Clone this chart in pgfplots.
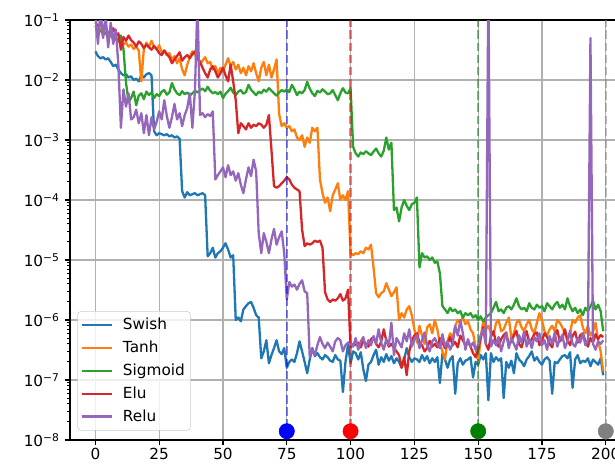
\documentclass[border=0pt]{standalone}
\usepackage{fontspec}
\setmainfont{DejaVu Sans}
\usepackage{pgfplots}
\usepackage{pgfplotstable}
\pgfplotsset{compat=1.18}
\definecolor{tabblue}{HTML}{1F77B4}
\definecolor{taborange}{HTML}{FF7F0E}
\definecolor{tabgreen}{HTML}{2CA02C}
\definecolor{tabred}{HTML}{D62728}
\definecolor{tabpurple}{HTML}{9467BD}
\definecolor{mplgreen}{HTML}{008000}
\definecolor{mplgray}{HTML}{808080}
\definecolor{gridgray}{HTML}{B0B0B0}
\pgfplotstableread{
x S T G E R
0 3.0e-2 8.0e-2 6.8e-2 9.0e-2 1.2e-1
1 2.5e-2 6.5e-2 7.0e-2 8.0e-2 4.0e-2
2 2.3e-2 7.0e-2 6.5e-2 8.5e-2 1.5e-1
3 2.4e-2 5.5e-2 6.6e-2 7.0e-2 5.0e-2
4 2.2e-2 6.2e-2 6.0e-2 7.5e-2 1.2e-1
5 2.3e-2 5.0e-2 6.3e-2 6.0e-2 3.5e-2
6 2.0e-2 5.6e-2 5.5e-2 6.5e-2 9.0e-2
7 1.7e-2 4.6e-2 5.8e-2 7.3e-2 4.0e-2
8 1.8e-2 5.0e-2 5.0e-2 5.5e-2 7.0e-2
9 1.5e-2 4.3e-2 4.5e-2 6.0e-2 1.8e-2
10 1.3e-2 4.6e-2 5.5e-2 3.2e-2 1.6e-3
11 1.2e-2 3.9e-2 3.3e-2 5.2e-2 7.0e-3
12 1.25e-2 4.2e-2 9.0e-3 4.5e-2 3.6e-3
13 1.1e-2 3.6e-2 4.3e-3 5.5e-2 6.0e-3
14 1.15e-2 3.9e-2 5.0e-3 4.6e-2 2.2e-3
15 1.0e-2 3.3e-2 6.4e-3 4.2e-2 2.4e-3
16 1.05e-2 3.6e-2 3.8e-3 3.6e-2 3.2e-3
17 9.5e-3 3.1e-2 5.5e-3 4.4e-2 1.9e-3
18 1.2e-2 9.5e-3 6.0e-3 4.0e-2 2.8e-3
19 1.1e-2 3.3e-2 4.8e-3 3.4e-2 1.3e-3
20 1.25e-2 4.2e-2 6.4e-3 3.9e-2 2.6e-3
21 1.3e-2 3.5e-2 5.6e-3 3.5e-2 1.2e-3
22 1.2e-2 4.5e-2 6.2e-3 3.2e-2 2.4e-3
23 1.4e-3 3.6e-2 5.0e-3 3.7e-2 1.5e-3
24 1.2e-3 3.2e-2 5.8e-3 3.3e-2 2.0e-3
25 1.3e-3 3.8e-2 5.4e-3 2.8e-2 3.0e-3
26 1.25e-3 2.9e-2 6.4e-3 2.6e-2 2.2e-3
27 1.2e-3 3.1e-2 6.8e-3 3.1e-2 4.6e-3
28 1.25e-3 2.6e-2 5.7e-3 2.7e-2 2.5e-3
29 1.15e-3 2.8e-2 6.2e-3 2.4e-2 1.6e-3
30 1.2e-3 2.2e-2 8.9e-3 1.9e-2 2.4e-3
31 1.1e-3 2.5e-2 7.0e-3 2.2e-2 4.0e-3
32 1.15e-3 1.9e-2 6.0e-3 2.5e-2 2.2e-3
33 1.05e-3 2.3e-2 5.6e-3 2.9e-2 2.8e-3
34 1.4e-4 1.5e-2 6.5e-3 2.1e-2 1.7e-3
35 1.1e-4 1.2e-2 5.8e-3 2.4e-2 2.6e-3
36 1.35e-4 1.8e-2 6.2e-3 2.6e-2 3.4e-3
37 1.2e-4 2.4e-2 5.5e-3 2.3e-2 6.0e-3
38 1.25e-4 3.0e-2 6.0e-3 2.7e-2 1.6e-3
39 1.3e-4 2.6e-2 6.6e-3 3.0e-2 6.5e-3
40 1.2e-4 2.3e-2 6.2e-3 2.4e-2 2.0e-1
41 1.25e-4 1.8e-2 6.8e-3 2.0e-2 2.6e-3
42 1.3e-4 2.1e-2 7.2e-3 1.6e-2 2.8e-3
43 1.2e-4 2.4e-2 6.5e-3 1.3e-2 2.4e-3
44 1.15e-5 1.9e-2 7.7e-3 1.1e-2 2.7e-3
45 1.3e-5 2.0e-2 6.6e-3 1.5e-2 2.5e-3
46 1.6e-5 1.5e-2 6.0e-3 1.7e-2 3.0e-3
47 1.1e-5 1.7e-2 6.3e-3 1.4e-2 2.2e-4
48 1.3e-5 1.3e-2 5.8e-3 1.1e-2 2.6e-4
49 1.4e-5 1.6e-2 6.4e-3 1.3e-2 3.0e-4
50 1.6e-5 1.4e-2 5.0e-3 1.6e-2 3.5e-4
51 1.9e-5 1.8e-2 5.9e-3 1.2e-2 2.4e-4
52 1.5e-5 2.3e-2 6.5e-3 9.5e-3 3.8e-4
53 1.1e-5 1.7e-2 7.4e-3 1.8e-2 2.6e-4
54 1.2e-5 2.0e-2 6.2e-3 9.5e-3 3.0e-4
55 1.0e-6 1.5e-2 5.6e-3 4.6e-3 2.1e-4
56 1.1e-6 1.8e-2 6.4e-3 1.3e-3 2.8e-4
57 9.5e-7 1.3e-2 6.8e-3 1.9e-3 1.8e-4
58 1.5e-6 1.6e-2 5.9e-3 1.7e-3 1.3e-4
59 1.7e-6 1.2e-2 6.3e-3 1.5e-3 2.2e-4
60 1.9e-6 1.7e-2 8.3e-3 1.9e-3 3.5e-4
61 2.0e-6 1.4e-2 6.9e-3 1.6e-3 2.5e-4
62 1.6e-6 1.9e-2 6.2e-3 1.8e-3 4.7e-4
63 1.2e-6 1.3e-2 5.6e-3 1.7e-3 3.0e-4
64 1.1e-6 9.5e-3 6.4e-3 1.9e-3 2.8e-5
65 2.3e-7 1.6e-2 6.0e-3 1.8e-3 1.3e-5
66 3.0e-7 2.0e-2 6.9e-3 1.6e-3 2.8e-5
67 4.6e-7 1.2e-2 6.4e-3 1.8e-3 2.0e-5
68 1.9e-7 1.8e-2 7.3e-3 2.6e-3 1.3e-5
69 2.6e-7 1.1e-2 6.6e-3 6.8e-4 2.2e-5
70 3.4e-7 1.5e-2 6.0e-3 1.7e-4 3.3e-5
71 4.6e-7 2.2e-2 5.5e-3 1.6e-4 1.8e-5
72 3.0e-7 2.7e-3 6.2e-3 1.7e-4 2.4e-5
73 2.7e-7 1.7e-3 6.8e-3 1.9e-4 3.0e-5
74 3.4e-7 1.9e-3 6.4e-3 2.1e-4 1.3e-5
75 1.6e-7 1.6e-3 7.0e-3 2.4e-4 2.2e-6
76 2.0e-7 1.7e-3 6.3e-3 2.2e-4 4.3e-6
77 2.2e-7 1.4e-3 8.3e-3 1.8e-4 3.6e-6
78 2.0e-7 1.5e-3 7.0e-3 1.6e-4 3.9e-6
79 2.8e-7 1.1e-3 5.6e-3 1.5e-4 3.2e-6
80 4.4e-7 1.0e-3 6.4e-3 1.4e-4 4.0e-6
81 3.0e-7 1.2e-3 6.0e-3 3.2e-5 4.6e-6
82 2.0e-7 7.7e-4 6.8e-3 1.7e-5 3.0e-6
83 1.3e-7 1.1e-3 9.3e-3 1.9e-5 2.8e-6
84 2.2e-7 9.0e-4 7.2e-3 1.8e-5 2.4e-7
85 3.4e-7 1.6e-3 6.0e-3 1.9e-5 3.2e-7
86 2.5e-7 1.4e-3 5.4e-3 2.1e-5 2.6e-7
87 2.8e-7 1.6e-3 6.6e-3 2.0e-5 3.8e-7
88 2.4e-7 2.2e-4 6.2e-3 2.1e-5 5.2e-7
89 2.2e-7 1.3e-4 7.0e-3 1.6e-5 4.0e-7
90 2.6e-7 9.0e-5 6.4e-3 2.9e-6 3.4e-7
91 2.4e-7 1.1e-4 5.8e-3 2.2e-6 4.2e-7
92 2.1e-7 6.5e-5 6.0e-3 2.0e-6 3.6e-7
93 2.0e-7 1.2e-4 6.8e-3 2.2e-6 3.0e-7
94 2.6e-7 1.5e-4 5.6e-3 2.1e-6 4.4e-7
95 2.2e-7 1.9e-4 4.6e-3 2.3e-6 5.0e-7
96 2.1e-7 1.0e-4 6.0e-3 2.7e-6 4.6e-7
97 6.3e-8 1.2e-4 7.3e-3 2.1e-6 3.0e-7
98 2.0e-7 1.0e-4 6.2e-3 2.3e-6 3.8e-7
99 3.9e-7 1.4e-4 6.0e-3 3.2e-6 4.2e-7
100 1.9e-7 1.3e-5 7.3e-3 3.5e-7 4.2e-7
101 3.0e-7 1.2e-5 7.7e-4 4.0e-7 3.6e-7
102 2.8e-7 1.3e-5 6.0e-4 3.8e-7 5.0e-7
103 2.2e-7 1.25e-5 5.3e-4 4.2e-7 3.2e-7
104 2.9e-7 1.4e-5 6.2e-4 3.5e-7 4.4e-7
105 1.5e-7 1.3e-5 5.8e-4 4.5e-7 5.2e-7
106 9.6e-8 1.6e-5 6.5e-4 4.0e-7 3.4e-7
107 1.8e-7 1.5e-5 6.0e-4 3.6e-7 4.6e-7
108 2.0e-7 1.8e-5 5.6e-4 4.8e-7 3.8e-7
109 2.6e-7 7.5e-6 6.4e-4 5.2e-7 5.4e-7
110 3.2e-7 2.8e-6 7.2e-4 4.0e-7 4.0e-7
111 1.8e-7 2.4e-6 6.0e-4 3.5e-7 7.0e-7
112 2.4e-7 2.8e-6 5.3e-4 4.4e-7 4.2e-7
113 2.0e-7 3.0e-6 6.6e-4 7.0e-7 3.2e-7
114 2.7e-7 4.1e-6 1.1e-3 4.5e-7 4.8e-7
115 2.1e-7 3.2e-6 6.9e-4 3.6e-7 3.8e-7
116 2.5e-7 2.5e-6 9.0e-4 4.0e-7 9.0e-7
117 1.9e-7 2.9e-6 6.8e-5 3.4e-7 2.6e-7
118 2.3e-7 3.5e-6 7.5e-5 3.0e-7 5.0e-7
119 2.0e-7 1.0e-6 4.4e-5 2.6e-7 4.2e-7
120 1.6e-7 1.3e-6 7.5e-5 1.6e-7 3.5e-7
121 2.2e-7 1.1e-6 1.0e-4 2.4e-7 6.0e-7
122 3.4e-7 1.5e-6 8.0e-5 1.2e-7 4.4e-7
123 2.4e-7 1.7e-6 6.8e-5 3.0e-7 7.0e-7
124 2.0e-7 1.2e-6 8.5e-5 4.6e-7 3.6e-7
125 2.3e-7 7.0e-7 9.0e-5 5.5e-7 4.8e-7
126 2.2e-7 4.2e-7 1.1e-4 6.0e-7 5.6e-7
127 2.0e-7 8.0e-7 7.5e-6 4.2e-7 3.4e-7
128 2.6e-7 5.5e-7 1.3e-5 3.8e-7 4.6e-7
129 2.1e-7 4.0e-7 1.1e-5 3.0e-7 6.2e-7
130 2.5e-7 7.5e-7 1.15e-5 3.4e-7 3.8e-7
131 1.9e-7 8.5e-7 1.0e-5 4.5e-7 3.0e-7
132 2.3e-7 6.0e-7 1.1e-5 3.6e-7 4.4e-7
133 2.0e-7 1.0e-6 9.0e-6 4.0e-7 5.0e-7
134 2.4e-7 7.0e-7 9.5e-6 3.5e-7 4.0e-7
135 8.9e-8 4.0e-7 6.0e-6 5.0e-7 3.4e-7
136 2.8e-7 3.0e-7 1.7e-6 4.2e-7 5.8e-7
137 2.2e-7 2.2e-7 1.5e-6 3.4e-7 3.6e-7
138 1.6e-7 4.5e-7 1.3e-6 4.0e-7 4.4e-7
139 2.2e-7 6.0e-7 1.6e-6 5.2e-7 3.2e-7
140 2.5e-7 5.0e-7 1.4e-6 3.8e-7 4.0e-7
141 5.9e-8 8.0e-7 1.5e-6 4.3e-7 8.0e-7
142 1.9e-7 1.0e-6 1.3e-6 3.5e-7 5.5e-7
143 2.3e-7 9.0e-7 1.4e-6 5.5e-7 1.0e-6
144 1.8e-7 1.1e-6 1.1e-6 4.6e-7 6.0e-7
145 2.1e-7 8.5e-7 1.3e-6 3.8e-7 3.2e-7
146 2.2e-7 9.5e-7 1.2e-6 4.4e-7 4.8e-7
147 2.4e-7 7.0e-7 1.3e-6 3.6e-7 3.6e-7
148 1.1e-7 6.0e-7 1.1e-6 2.8e-7 4.2e-7
149 2.0e-7 3.5e-7 1.2e-6 2.4e-7 3.2e-7
150 1.8e-7 2.0e-7 1.0e-6 3.2e-7 3.8e-7
151 2.6e-7 5.0e-7 1.15e-6 5.0e-7 5.6e-7
152 2.2e-7 1.0e-6 9.5e-7 7.6e-7 7.0e-7
153 2.8e-7 7.0e-7 1.1e-6 4.0e-7 4.0e-7
154 4.6e-8 8.0e-7 1.2e-6 3.2e-7 5.0e-1
155 2.8e-7 6.0e-7 1.3e-6 5.4e-7 3.6e-7
156 2.0e-7 5.5e-7 1.6e-6 6.5e-7 4.6e-7
157 2.4e-7 9.0e-7 2.0e-6 4.2e-7 3.8e-7
158 2.1e-7 1.0e-6 1.4e-6 3.6e-7 5.2e-7
159 2.3e-7 6.5e-7 1.5e-6 4.8e-7 3.0e-7
160 5.0e-8 7.0e-7 1.3e-6 5.6e-7 4.4e-7
161 2.0e-7 9.0e-7 1.6e-6 6.2e-7 6.0e-7
162 1.6e-7 1.1e-6 1.7e-6 3.8e-7 3.4e-7
163 2.1e-7 5.0e-7 1.5e-6 4.4e-7 5.0e-7
164 1.3e-7 6.0e-7 1.8e-6 5.5e-7 4.0e-7
165 2.8e-7 9.0e-7 2.3e-6 6.6e-7 3.2e-7
166 2.2e-7 1.0e-6 1.7e-6 4.0e-7 5.6e-7
167 2.0e-7 7.5e-7 1.5e-6 3.5e-7 4.2e-7
168 1.7e-7 6.5e-7 1.6e-6 5.0e-7 6.4e-7
169 2.2e-7 8.5e-7 1.4e-6 6.5e-7 3.6e-7
170 2.5e-7 1.0e-6 1.9e-6 4.2e-7 4.8e-7
171 3.0e-7 7.0e-7 1.6e-6 4.8e-7 3.4e-7
172 2.1e-7 6.0e-7 1.5e-6 5.8e-7 5.2e-7
173 2.4e-7 9.0e-7 1.8e-6 6.2e-7 4.4e-7
174 2.0e-7 1.3e-6 1.6e-6 3.8e-7 6.0e-7
175 1.8e-7 1.0e-6 1.7e-6 4.5e-7 3.8e-7
176 2.2e-7 6.5e-7 1.4e-6 6.0e-7 4.6e-7
177 2.4e-7 5.5e-7 1.9e-6 5.2e-7 3.2e-7
178 2.1e-7 7.0e-7 1.7e-6 4.0e-7 5.4e-7
179 5.9e-8 8.0e-7 1.5e-6 3.5e-7 4.0e-7
180 2.0e-7 6.5e-7 1.8e-6 5.5e-7 6.2e-7
181 1.9e-7 1.0e-6 2.0e-6 6.8e-7 3.6e-7
182 2.2e-7 9.0e-7 1.6e-6 4.4e-7 4.8e-7
183 2.5e-7 7.5e-7 1.8e-6 5.0e-7 5.6e-7
184 2.6e-7 6.0e-7 1.5e-6 7.0e-7 3.4e-7
185 2.3e-7 4.5e-7 2.3e-6 4.6e-7 4.4e-7
186 2.9e-7 6.0e-7 1.7e-6 3.8e-7 6.6e-7
187 7.4e-8 1.0e-6 1.4e-6 5.4e-7 4.0e-7
188 2.2e-7 9.0e-7 1.6e-6 6.4e-7 3.6e-7
189 2.6e-7 1.1e-6 1.3e-6 4.2e-7 5.0e-7
190 1.9e-7 1.2e-6 1.5e-6 5.6e-7 4.2e-7
191 2.1e-7 7.5e-7 1.2e-6 6.0e-7 6.0e-7
192 2.0e-7 6.0e-7 1.6e-6 4.5e-7 3.8e-7
193 2.3e-7 8.0e-7 1.4e-6 3.6e-7 4.6e-7
194 1.7e-7 5.5e-7 1.7e-6 5.0e-7 5.0e-2
195 2.2e-7 6.5e-7 2.1e-6 4.2e-7 4.0e-7
196 2.0e-7 9.0e-7 1.5e-6 5.8e-7 3.2e-7
197 1.8e-7 4.5e-7 1.8e-6 4.8e-7 4.4e-7
198 2.3e-7 3.0e-7 1.4e-6 5.6e-7 4.0e-7
199 1.2e-7 1.4e-7 6.5e-7 5.2e-7 4.6e-7
}\data
\begin{document}
\begin{tikzpicture}
\useasboundingbox (-50.4pt,-17.28pt) rectangle (392.4pt,316.8pt);
\clip (-50.4pt,-17.28pt) rectangle (392.4pt,316.8pt);
\begin{axis}[
  at={(0pt,0pt)}, anchor=south west,
  scale only axis, width=402.2pt, height=302.4pt,
  xmin=-9.95, xmax=208.95,
  ymode=log, ymin=1e-8, ymax=1e-1,
  xtick={0,25,50,75,100,125,150,175,200},
  xticklabels={0,25,50,75,100,125,150,175,200},
  ytick={1e-8,1e-7,1e-6,1e-5,1e-4,1e-3,1e-2,1e-1},
  yticklabels={10\textsuperscript{−8},10\textsuperscript{−7},10\textsuperscript{−6},10\textsuperscript{−5},10\textsuperscript{−4},10\textsuperscript{−3},10\textsuperscript{−2},10\textsuperscript{−1}},
  minor ytick={2e-8,3e-8,4e-8,5e-8,6e-8,7e-8,8e-8,9e-8,
    2e-7,3e-7,4e-7,5e-7,6e-7,7e-7,8e-7,9e-7,
    2e-6,3e-6,4e-6,5e-6,6e-6,7e-6,8e-6,9e-6,
    2e-5,3e-5,4e-5,5e-5,6e-5,7e-5,8e-5,9e-5,
    2e-4,3e-4,4e-4,5e-4,6e-4,7e-4,8e-4,9e-4,
    2e-3,3e-3,4e-3,5e-3,6e-3,7e-3,8e-3,9e-3,
    2e-2,3e-2,4e-2,5e-2,6e-2,7e-2,8e-2,9e-2},
  tick pos=left, tick align=outside,
  major tick length=3.9pt, minor tick length=2.2pt,
  every tick/.style={black, line width=0.88pt},
  minor tick style={black, line width=0.66pt},
  axis line style={line width=0.88pt},
  grid=major,
  major grid style={gridgray, line width=0.88pt},
  tick label style={font=\fontsize{11}{13}\selectfont},
  xticklabel style={yshift=1.5pt},
  legend cell align=left,
  legend image code/.code={\draw[#1, line width=1.66pt] (0pt,0pt) -- (22pt,0pt);},
  legend style={at={(0,0)}, anchor=south west, xshift=5.3pt, yshift=6.7pt,
    draw=black!20, rounded corners=2.5pt, fill=white, fill opacity=0.8, text opacity=1,
    font=\fontsize{11}{13}\selectfont, row sep=2.6pt, inner xsep=2pt, inner ysep=3pt,
    /tikz/every odd column/.append style={column sep=5pt}},
  every axis plot/.append style={line join=round},
]
\addplot[tabblue, line width=1.66pt] table[x=x, y=S] {\data};
\addlegendentry{Swish}
\addplot[taborange, line width=1.66pt] table[x=x, y=T] {\data};
\addlegendentry{Tanh}
\addplot[tabgreen, line width=1.66pt] table[x=x, y=G] {\data};
\addlegendentry{Sigmoid}
\addplot[tabred, line width=1.66pt] table[x=x, y=E] {\data};
\addlegendentry{Elu}
\addplot[tabpurple, line width=1.66pt] table[x=x, y=R] {\data};
\addlegendentry{Relu}
\addplot[forget plot, blue, opacity=0.5, line width=1.66pt, dash pattern=on 6.1pt off 2.65pt] coordinates {(75,1e-8) (75,1e-1)};
\addplot[forget plot, only marks, mark=*, mark size=5.5pt, blue] coordinates {(75,1.4e-8)};
\addplot[forget plot, red, opacity=0.5, line width=1.66pt, dash pattern=on 6.1pt off 2.65pt] coordinates {(100,1e-8) (100,1e-1)};
\addplot[forget plot, only marks, mark=*, mark size=5.5pt, red] coordinates {(100,1.4e-8)};
\addplot[forget plot, mplgreen, opacity=0.5, line width=1.66pt, dash pattern=on 6.1pt off 2.65pt] coordinates {(150,1e-8) (150,1e-1)};
\addplot[forget plot, only marks, mark=*, mark size=5.5pt, mplgreen] coordinates {(150,1.4e-8)};
\addplot[forget plot, mplgray, opacity=0.5, line width=1.66pt, dash pattern=on 6.1pt off 2.65pt] coordinates {(200,1e-8) (200,1e-1)};
\addplot[forget plot, only marks, mark=*, mark size=5.5pt, mplgray] coordinates {(200,1.4e-8)};
\end{axis}
\end{tikzpicture}
\end{document}
